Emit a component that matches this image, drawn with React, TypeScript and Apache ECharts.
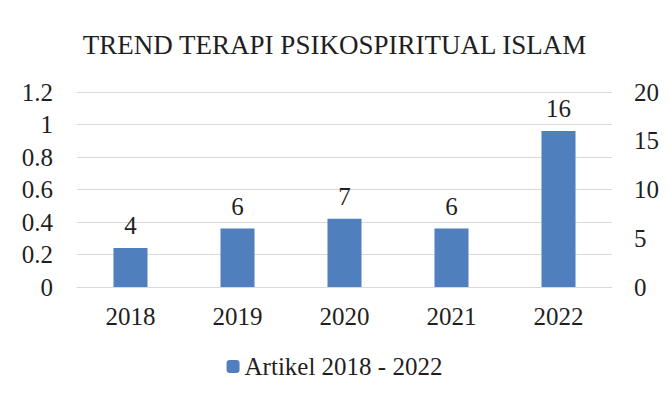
import React, { useEffect, useRef } from "react";
import * as echarts from "echarts";

const categories = ["2018", "2019", "2020", "2021", "2022"];
const articleCounts = [4, 6, 7, 6, 16];
const seriesName = "Artikel 2018 - 2022";
const chartTitle = "TREND TERAPI PSIKOSPIRITUAL ISLAM";

const FONT = "'Liberation Serif', 'DejaVu Serif', serif";
const TEXT = "#1f1f1f";

export default function App() {
  const ref = useRef<HTMLDivElement>(null);
  useEffect(() => {
    if (!ref.current) return;
    const chart = echarts.init(ref.current, undefined, { renderer: "svg" });
    chart.setOption({
      animation: false,
      textStyle: { fontFamily: FONT, color: TEXT },
      title: {
        text: chartTitle,
        left: "center",
        top: 26,
        textStyle: { fontFamily: FONT, fontSize: 27, fontWeight: "normal", color: TEXT },
      },
      graphic: {
        elements: [
          {
            type: "rect",
            z: 100,
            left: 5,
            top: 3,
            shape: { width: 2, height: 420 },
            style: { fill: "#c8c8c8" },
            silent: true,
          },
          {
            type: "rect",
            z: 100,
            left: 5,
            top: 3,
            shape: { width: 680, height: 2 },
            style: { fill: "#c8c8c8" },
            silent: true,
          },
        ],
      },
      legend: {
        bottom: 20,
        left: "center",
        itemWidth: 13,
        itemHeight: 13,
        itemGap: 10,
        textStyle: { fontFamily: FONT, fontSize: 25, color: TEXT },
        data: [seriesName],
      },
      grid: { left: 77, right: 57, top: 92, bottom: 117, containLabel: false },
      xAxis: {
        type: "category",
        data: categories,
        axisLine: { show: true, lineStyle: { color: "#d9d9d9" } },
        axisTick: { show: false },
        axisLabel: { fontFamily: FONT, fontSize: 25, color: TEXT, margin: 17 },
      },
      yAxis: [
        {
          type: "value",
          min: 0,
          max: 1.2,
          interval: 0.2,
          axisLine: { show: false },
          axisTick: { show: false },
          splitLine: { show: true, lineStyle: { color: "#d9d9d9" } },
          axisLabel: {
            fontFamily: FONT,
            fontSize: 25,
            color: TEXT,
            margin: 24,
            formatter: (v: number) => String(Math.round(v * 10) / 10),
          },
        },
        {
          type: "value",
          min: 0,
          max: 20,
          interval: 5,
          position: "right",
          axisLine: { show: false },
          axisTick: { show: false },
          splitLine: { show: false },
          axisLabel: { fontFamily: FONT, fontSize: 25, color: TEXT, margin: 22 },
        },
      ],
      series: [
        {
          name: seriesName,
          type: "bar",
          yAxisIndex: 1,
          data: articleCounts,
          barWidth: 34,
          itemStyle: { color: "#4f7fbd" },
          label: {
            show: true,
            position: "top",
            distance: 10,
            fontFamily: FONT,
            fontSize: 25,
            color: TEXT,
          },
        },
      ],
    });
    return () => chart.dispose();
  }, []);
  return <div ref={ref} style={{ width: 669, height: 404, margin: -8 }} />;
}
